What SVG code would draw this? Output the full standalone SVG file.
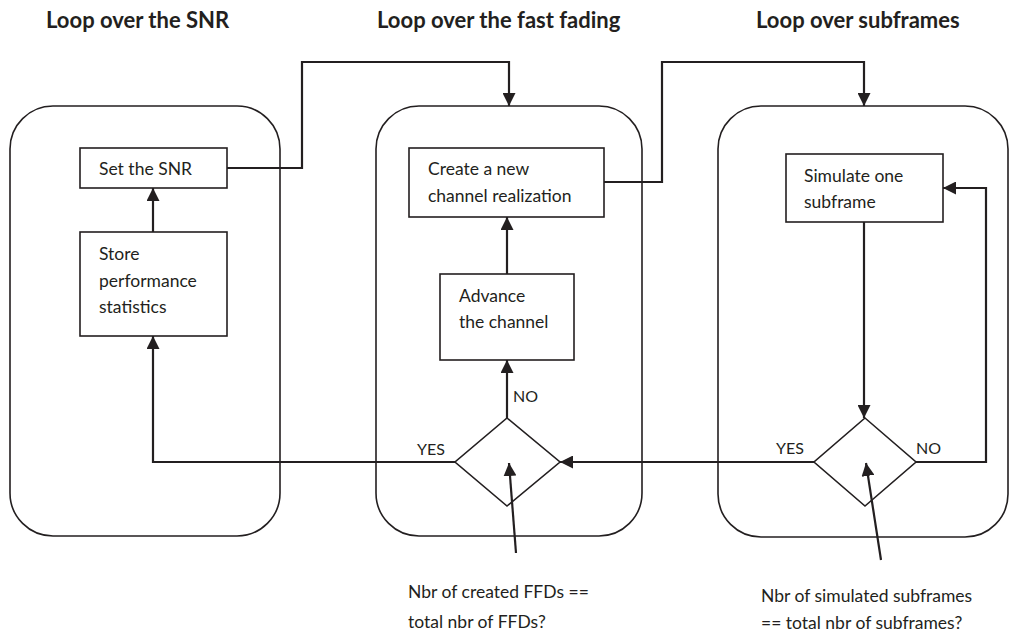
<svg xmlns="http://www.w3.org/2000/svg" width="1009" height="634" viewBox="0 0 1009 634">
<defs>
<marker id="ah" markerUnits="userSpaceOnUse" markerWidth="13" markerHeight="13" viewBox="0 0 13 13" refX="13" refY="6.5" orient="auto">
<path d="M0,0 L13,6.5 L0,13 z" fill="#231f20"/>
</marker>
<style>
.cont{fill:none;stroke:#231f20;stroke-width:1.6}
.box{fill:#fff;stroke:#231f20;stroke-width:1.6}
.dia{fill:#fff;stroke:#231f20;stroke-width:1.6}
.arr{fill:none;stroke:#231f20;stroke-width:2.2;marker-end:url(#ah)}
text{font-family:Lato,"Noto Sans",sans-serif;fill:#231f20;font-size:17.5px}
.title{font-weight:bold;font-size:22px}
.lbl{font-size:16px}
</style>
</defs>
<rect width="1009" height="634" fill="#fff"/>
<g id="titles">
<text class="title" x="46" y="28">Loop over the SNR</text>
<text class="title" x="377" y="28">Loop over the fast fading</text>
<text class="title" x="756" y="28">Loop over subframes</text>
</g>
<g id="loop-snr"><rect class="cont" x="10" y="106" width="270" height="430" rx="43" ry="43"/></g>
<g id="loop-fading"><rect class="cont" x="376" y="106" width="266" height="430" rx="43" ry="43"/></g>
<g id="loop-subframes"><rect class="cont" x="718" y="106" width="290" height="431" rx="43" ry="43"/></g>
<g id="set-snr"><rect class="box" x="80" y="148" width="147" height="40"/><text x="99" y="175">Set the SNR</text></g>
<g id="store-stats"><rect class="box" x="80" y="232" width="147" height="104"/><text x="99" y="260">Store</text><text x="99" y="287">performance</text><text x="99" y="313">statistics</text></g>
<g id="create-channel"><rect class="box" x="409" y="148" width="195" height="69"/><text x="428" y="175">Create a new</text><text x="428" y="202">channel realization</text></g>
<g id="advance-channel"><rect class="box" x="440" y="274" width="134" height="86"/><text x="459" y="302">Advance</text><text x="459" y="328">the channel</text></g>
<g id="simulate-subframe"><rect class="box" x="786" y="154" width="157" height="68"/><text x="804" y="182">Simulate one</text><text x="804" y="208">subframe</text></g>
<g id="decision-ffd"><polygon class="dia" points="507,418 560,462 507,506 455,462"/></g>
<g id="decision-subframes"><polygon class="dia" points="865,418 916,462 865,506 814,462"/></g>
<g id="connectors">
<polyline class="arr" points="227,168 302,168 302,62 509,62 509,106"/>
<polyline class="arr" points="604,182 662,182 662,62 864,62 864,106"/>
<line class="arr" x1="153" y1="232" x2="153" y2="188"/>
<polyline class="arr" points="455,462 153,462 153,336"/>
<line class="arr" x1="507" y1="274" x2="507" y2="217"/>
<line class="arr" x1="507" y1="418" x2="507" y2="360"/>
<line class="arr" x1="864" y1="222" x2="864" y2="418"/>
<polyline class="arr" points="916,462 986,462 986,188 943,188"/>
<line class="arr" x1="814" y1="462" x2="560" y2="462"/>
<line class="arr" x1="516" y1="553" x2="509" y2="463"/>
<line class="arr" x1="881" y1="560" x2="866" y2="463"/>
</g>
<g id="labels">
<text class="lbl" x="513" y="402">NO</text>
<text class="lbl" x="417" y="455">YES</text>
<text class="lbl" x="776" y="454">YES</text>
<text class="lbl" x="916" y="454">NO</text>
<text x="408" y="598">Nbr of created FFDs ==</text>
<text x="408" y="628">total nbr of FFDs?</text>
<text x="761" y="602">Nbr of simulated subframes</text>
<text x="761" y="629">== total nbr of subframes?</text>
</g>
</svg>
